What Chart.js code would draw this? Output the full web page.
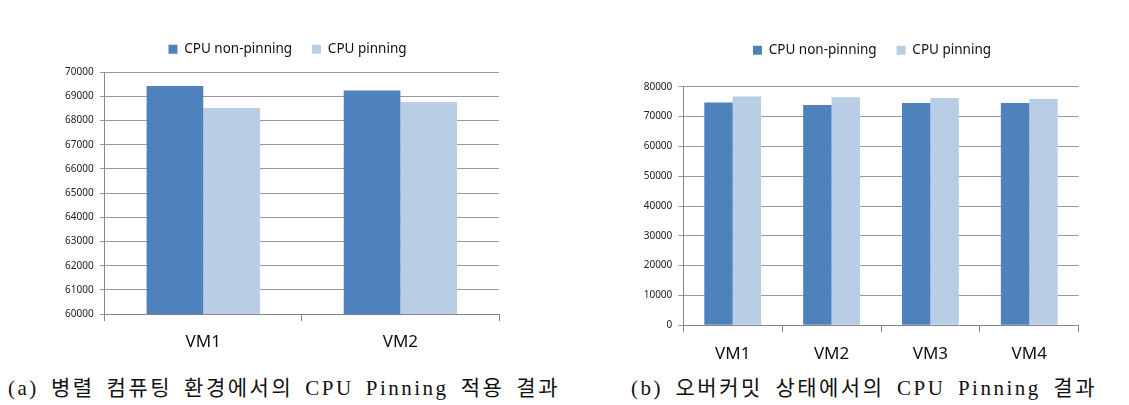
<!DOCTYPE html>
<html>
<head>
<meta charset="utf-8">
<script src="https://cdn.jsdelivr.net/npm/chart.js@4"></script>
<style>
  body { margin: 0; background: #fff; width: 1129px; height: 405px; overflow: hidden; position: relative; }
  .box { position: absolute; top: 0; }
  .cap { position: absolute; top: 375px; white-space: nowrap; font-family: "Liberation Serif", "Noto Sans CJK KR", serif; font-size: 21px; color: #111; line-height: 26px; letter-spacing: 2.5px; }
</style>
</head>
<body>
<div class="box" style="left:0;width:540px;height:360px"><canvas id="chartA"></canvas></div>
<div class="box" style="left:560px;width:569px;height:370px"><canvas id="chartB"></canvas></div>
<div class="cap" id="capA" style="left:8px" data-w="552">(a) 병렬 컴퓨팅 환경에서의 CPU Pinning 적용 결과</div>
<div class="cap" id="capB" style="left:631px" data-w="466">(b) 오버커밋 상태에서의 CPU Pinning 결과</div>
<script>
const seriesNames = ['CPU non-pinning', 'CPU pinning'];

// (a) 병렬 컴퓨팅
const vmsA = ['VM1', 'VM2'];
const nonPinA = [69430, 69250];
const pinA = [68520, 68770];
const ticksA = [60000, 61000, 62000, 63000, 64000, 65000, 66000, 67000, 68000, 69000, 70000];

// (b) 오버커밋
const vmsB = ['VM1', 'VM2', 'VM3', 'VM4'];
const nonPinB = [74700, 73850, 74500, 74500];
const pinB = [76750, 76500, 76200, 75850];
const ticksB = [0, 10000, 20000, 30000, 40000, 50000, 60000, 70000, 80000];

const darkBlue = '#4f81bd';
const lightBlue = '#b9cde5';
const font = 'Noto Sans';

// fix legend height and centre it over a given x
const legendPlace = {
  id: 'legendPlace',
  beforeInit(chart, args, opts) {
    const lg = chart.legend;
    const fit = lg.fit;
    lg.fit = function () {
      fit.call(this);
      this.height = opts.height;
    };
  },
  afterLayout(chart, args, opts) {
    const lg = chart.legend;
    const shift = opts.center - (lg.left + lg.right) / 2;
    lg.left += shift;
    lg.right += shift;
  }
};

function makeChart(id, labels, a, b, ticks, cfg) {
  const ctx = document.getElementById(id).getContext('2d');
  return new Chart(ctx, {
    type: 'bar',
    data: {
      labels: labels,
      datasets: [
        { label: seriesNames[0], data: a, backgroundColor: darkBlue, barPercentage: 1, categoryPercentage: 0.575 },
        { label: seriesNames[1], data: b, backgroundColor: lightBlue, barPercentage: 1, categoryPercentage: 0.575 }
      ]
    },
    plugins: [legendPlace],
    options: {
      responsive: true,
      maintainAspectRatio: false,
      animation: false,
      layout: { padding: cfg.padding },
      plugins: {
        legendPlace: { height: cfg.legendHeight, center: cfg.legendCenter },
        tooltip: { enabled: false },
        legend: {
          position: 'top',
          labels: { boxWidth: 9, boxHeight: 9, padding: 20, color: '#111', font: { family: font, size: 13.5 } }
        }
      },
      scales: {
        x: {
          afterFit(scale) { scale.height = cfg.xHeight; },
          grid: { offset: true, drawOnChartArea: false, drawTicks: true, tickLength: 7, color: '#868686' },
          border: { color: '#868686' },
          ticks: { padding: cfg.xPad, color: '#111', font: { family: font, size: 17 } }
        },
        y: {
          min: ticks[0],
          max: ticks[ticks.length - 1],
          afterFit(scale) { scale.width = cfg.yWidth; },
          afterBuildTicks(scale) { scale.ticks = ticks.map(v => ({ value: v })); },
          grid: { color: '#9a9a9a', tickLength: 5 },
          border: { color: '#868686' },
          ticks: { padding: 6, color: '#222', font: { family: font, size: 10 }, callback: v => String(v) }
        }
      }
    }
  });
}

makeChart('chartA', vmsA, nonPinA, pinA, ticksA, {
  padding: { top: 22.5, left: 0, right: 41, bottom: 0 },
  legendHeight: 49.8, legendCenter: 287.5,
  xHeight: 46, yWidth: 104.7, xPad: 11
});

makeChart('chartB', vmsB, nonPinB, pinB, ticksB, {
  padding: { top: 23.5, left: 0, right: 50.3, bottom: 0 },
  legendHeight: 63.2, legendCenter: 312,
  xHeight: 44.7, yWidth: 123.3, xPad: 12
});

// stretch captions to the reference widths with word spacing
document.querySelectorAll('.cap').forEach(el => {
  const target = +el.dataset.w;
  const n = el.textContent.split(' ').length - 1;
  const w = el.getBoundingClientRect().width;
  el.style.wordSpacing = ((target - w) / n) + 'px';
});
</script>
</body>
</html>
